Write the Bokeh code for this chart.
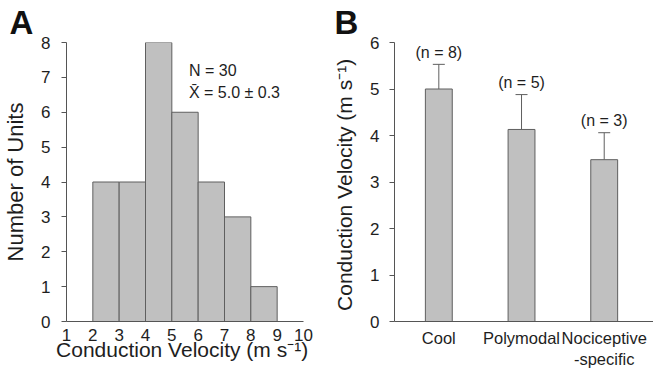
from bokeh.plotting import figure
from bokeh.layouts import row
from bokeh.models import Label, Whisker, TeeHead, FixedTicker, ColumnDataSource, Range1d
from bokeh.embed import file_html
from bokeh.resources import INLINE
from bokeh.core.properties import value

# ---- Panel A data: histogram of conduction velocity ----
bin_edges = [2, 3, 4, 5, 6, 7, 8, 9]
unit_counts = [4, 4, 8, 6, 4, 3, 1]
x_ticks_a = [1, 2, 3, 4, 5, 6, 7, 8, 9, 10]
y_ticks_a = [0, 1, 2, 3, 4, 5, 6, 7, 8]
n_total = 30
mean_total = 5.0
sem_total = 0.3

# ---- Panel B data: mean conduction velocity by unit type ----
categories = ["Cool", "Polymodal", "Nociceptive\n-specific"]
mean_cv = [5.0, 4.13, 3.48]
sem_cv = [0.53, 0.75, 0.58]
n_units = [8, 5, 3]
y_ticks_b = [0, 1, 2, 3, 4, 5, 6]

FONT = "Liberation Sans"
BAR_FILL = "#c0c0c0"
BAR_LINE = "#5f5f5f"
AXIS_COLOR = "#555555"
TEXT_COLOR = "#1e1e1e"


def style_axes(p, letter, letter_offset):
    p.xgrid.grid_line_color = None
    p.ygrid.grid_line_color = None
    p.outline_line_color = None
    p.background_fill_color = "white"
    p.border_fill_color = "white"
    p.title.text = letter
    p.title.align = "left"
    p.title.offset = letter_offset
    p.title.standoff = 3
    p.title.text_font = FONT
    p.title.text_font_size = "33px"
    p.title.text_font_style = "bold"
    p.title.text_color = "#111111"
    for ax in (p.xaxis[0], p.yaxis[0]):
        ax.axis_line_color = AXIS_COLOR
        ax.major_tick_line_color = AXIS_COLOR
        ax.minor_tick_line_color = None
        ax.major_label_text_font = FONT
        ax.major_label_text_font_size = "17px"
        ax.major_label_text_color = TEXT_COLOR
        ax.axis_label_text_font = FONT
        ax.axis_label_text_font_style = "normal"
        ax.axis_label_text_color = TEXT_COLOR
        ax.axis_label_text_font_size = "21px"


# ================= Panel A =================
pa = figure(width=330, height=371, x_range=Range1d(1, 10), y_range=Range1d(0, 8),
            output_backend="svg", toolbar_location=None,
            min_border_left=65, min_border_right=27, min_border_top=42, min_border_bottom=49)
style_axes(pa, "A", -57)

pa.quad(left=bin_edges[:-1], right=bin_edges[1:], bottom=0, top=unit_counts,
        fill_color=BAR_FILL, line_color=BAR_LINE, line_width=1)

pa.xaxis.ticker = FixedTicker(ticks=x_ticks_a)
pa.xaxis.major_tick_out = 0
pa.xaxis.major_tick_in = 0
pa.xaxis.major_label_standoff = 7
pa.xaxis.axis_label = "Conduction Velocity  (m s\u207b\u00b9)"
pa.xaxis.axis_label_standoff = -6

pa.yaxis.ticker = FixedTicker(ticks=y_ticks_a)
pa.yaxis.major_tick_out = 5
pa.yaxis.major_tick_in = 0
pa.yaxis.major_label_standoff = 11
pa.yaxis.axis_label = "Number of Units"
pa.yaxis.axis_label_text_font_size = "22px"
pa.yaxis.axis_label_standoff = 10

pa.add_layout(Label(x=5.65, y=7.2, text=f"N = {n_total}", text_font=FONT,
                    text_font_size="16px", text_color=TEXT_COLOR, text_baseline="alphabetic"))
pa.add_layout(Label(x=5.65, y=6.57, text=f"X\u0304 = {mean_total:.1f} \u00b1 {sem_total:.1f}",
                    text_font=FONT, text_font_size="16px", text_color=TEXT_COLOR,
                    text_baseline="alphabetic"))

# ================= Panel B =================
xs = [i + 1 for i in range(len(categories))]
upper = [m + s for m, s in zip(mean_cv, sem_cv)]
src = ColumnDataSource(dict(x=xs, mean=mean_cv, upper=upper,
                            label=[f"(n = {n})" for n in n_units]))

pb = figure(width=323, height=371, x_range=Range1d(0.464, 3.596), y_range=Range1d(0, 6),
            output_backend="svg", toolbar_location=None,
            min_border_left=63, min_border_right=0, min_border_top=42, min_border_bottom=49)
style_axes(pb, "B", -60)

pb.add_layout(Whisker(source=src, base="x", lower="mean", upper="upper",
                      line_color=BAR_LINE, line_width=1,
                      upper_head=TeeHead(size=12, line_color=BAR_LINE, line_width=1),
                      lower_head=None))
pb.vbar(x="x", top="mean", bottom=0, width=0.325, source=src,
        fill_color=BAR_FILL, line_color=BAR_LINE, line_width=1)
pb.text(x="x", y="upper", text="label", source=src, text_align="center",
        text_baseline="middle", y_offset=-12, text_font=value(FONT),
        text_font_size="16px", text_color=TEXT_COLOR)

pb.xaxis.ticker = FixedTicker(ticks=xs)
pb.xaxis.major_label_overrides = {x: c for x, c in zip(xs, categories)}
pb.xaxis.major_label_text_font_size = "16.5px"
pb.xaxis.major_tick_out = 0
pb.xaxis.major_tick_in = 0
pb.xaxis.major_label_standoff = 7

pb.yaxis.ticker = FixedTicker(ticks=y_ticks_b)
pb.yaxis.major_tick_out = 5
pb.yaxis.major_tick_in = 0
pb.yaxis.major_label_standoff = 10
pb.yaxis.axis_label = "Conduction Velocity  (m s\u207b\u00b9)"
pb.yaxis.axis_label_standoff = 11

layout = row(pa, pb)
open("out.html", "w").write(file_html(layout, INLINE))
